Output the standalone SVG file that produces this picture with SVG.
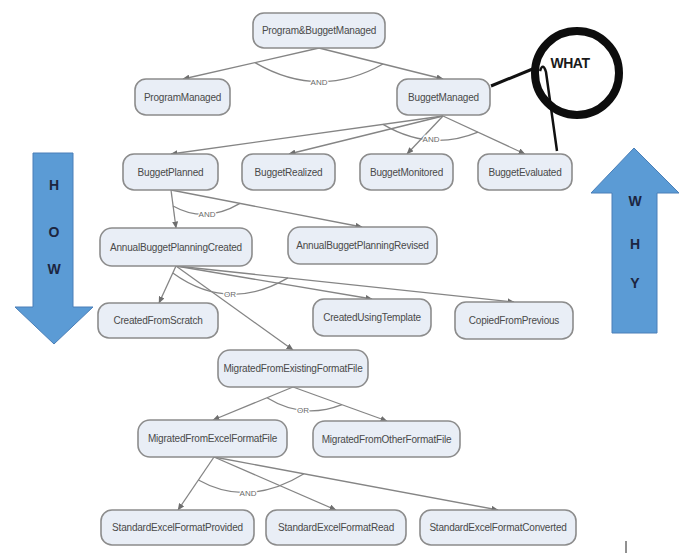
<svg xmlns="http://www.w3.org/2000/svg" width="685" height="555" viewBox="0 0 685 555">
<defs>
<marker id="ah" markerUnits="userSpaceOnUse" markerWidth="7" markerHeight="6" refX="6.5" refY="3" orient="auto">
<path d="M0,0 L7,3 L0,6 z" fill="#6e6e6e"/>
</marker>
<style>
.nd rect{fill:#e9eef6;stroke:#8c8c8c;stroke-width:1.6}
.nd text{font-family:"Liberation Sans",Arial,sans-serif;font-size:10px;fill:#4a4a4a;text-anchor:middle;letter-spacing:-0.2px}
.cn{stroke:#858585;stroke-width:1.3;fill:none}
.cn line{marker-end:url(#ah)}
.lb{font-family:"Liberation Sans",Arial,sans-serif;font-size:8px;fill:#6a6a6a;text-anchor:middle;stroke:#fff;stroke-width:2.5px;paint-order:stroke}
.big{fill:#5b9bd5;stroke:#4a7fb8;stroke-width:1}
.bl{font-family:"Liberation Sans",Arial,sans-serif;font-size:14px;font-weight:bold;fill:#1c2540;text-anchor:middle}
</style>
</defs>
<rect width="685" height="555" fill="#ffffff"/>

<g id="how-arrow">
<polygon class="big" points="33,153 73,153 73,307 93,307 54,344 15,307 33,307"/>
<text class="bl" x="54" y="190">H</text>
<text class="bl" x="54" y="237">O</text>
<text class="bl" x="54" y="274">W</text>
</g>
<g id="why-arrow">
<polygon class="big" points="634,148 679,193 657,193 657,333 612,333 612,193 591,193"/>
<text class="bl" x="635" y="206">W</text>
<text class="bl" x="635" y="249">H</text>
<text class="bl" x="635" y="288">Y</text>
</g>

<g id="connectors" class="cn">
<line x1="319" y1="48" x2="183" y2="79"/>
<line x1="319" y1="48" x2="443" y2="79"/>
<path d="M255,62.6 Q319,100 383,64"/>
<line x1="443" y1="116" x2="171" y2="154"/>
<line x1="443" y1="116" x2="289" y2="154"/>
<line x1="443" y1="116" x2="407" y2="154"/>
<line x1="443" y1="116" x2="525" y2="154"/>
<path d="M383,124.4 Q430,152 478,132.2"/>
<line x1="171" y1="190" x2="176" y2="228"/>
<line x1="171" y1="190" x2="362" y2="227"/>
<path d="M173,206 Q205,224 240,203.4"/>
<line x1="176" y1="266" x2="159" y2="303"/>
<line x1="176" y1="266" x2="293" y2="350"/>
<line x1="176" y1="266" x2="372" y2="299"/>
<line x1="176" y1="266" x2="514" y2="302"/>
<path d="M172.8,273 Q228,313 288,277.9"/>
<line x1="293" y1="387" x2="213" y2="420"/>
<line x1="293" y1="387" x2="387" y2="421"/>
<path d="M267,397.7 Q303,420 342,404.7"/>
<line x1="214" y1="457" x2="178" y2="510"/>
<line x1="214" y1="457" x2="336" y2="510"/>
<line x1="214" y1="457" x2="498" y2="510"/>
<path d="M198.4,480 Q248,508 304,473.8"/>
</g>
<g id="connector-labels">
<text class="lb" x="319" y="85">AND</text>
<text class="lb" x="431" y="142">AND</text>
<text class="lb" x="207" y="217">AND</text>
<text class="lb" x="230" y="297">OR</text>
<text class="lb" x="303" y="413">OR</text>
<text class="lb" x="248" y="496">AND</text>
</g>

<g id="n-program-budget-managed" class="nd"><rect x="253" y="13" width="132" height="35" rx="11"/><text x="319" y="34">Program&amp;BuggetManaged</text></g>
<g id="n-program-managed" class="nd"><rect x="135" y="79" width="95" height="36" rx="11"/><text x="182.5" y="100.5">ProgramManaged</text></g>
<g id="n-budget-managed" class="nd"><rect x="397" y="79" width="93" height="36" rx="11"/><text x="443.5" y="100.5">BuggetManaged</text></g>
<g id="n-budget-planned" class="nd"><rect x="123" y="154" width="95" height="36" rx="11"/><text x="170.5" y="175.5">BuggetPlanned</text></g>
<g id="n-budget-realized" class="nd"><rect x="242" y="154" width="93" height="36" rx="11"/><text x="288.5" y="175.5">BuggetRealized</text></g>
<g id="n-budget-monitored" class="nd"><rect x="360" y="154" width="93" height="36" rx="11"/><text x="406.5" y="175.5">BuggetMonitored</text></g>
<g id="n-budget-evaluated" class="nd"><rect x="478" y="154" width="94" height="36" rx="11"/><text x="525" y="175.5">BuggetEvaluated</text></g>
<g id="n-annual-created" class="nd"><rect x="100" y="228" width="152" height="38" rx="12"/><text x="176" y="250.5">AnnualBuggetPlanningCreated</text></g>
<g id="n-annual-revised" class="nd"><rect x="288" y="227" width="149" height="37" rx="12"/><text x="362.5" y="249">AnnualBuggetPlanningRevised</text></g>
<g id="n-created-scratch" class="nd"><rect x="98" y="303" width="120" height="35" rx="11"/><text x="158" y="324">CreatedFromScratch</text></g>
<g id="n-created-template" class="nd"><rect x="313" y="299" width="118" height="37" rx="11"/><text x="372" y="321">CreatedUsingTemplate</text></g>
<g id="n-copied-previous" class="nd"><rect x="455" y="302" width="118" height="37" rx="11"/><text x="514" y="324">CopiedFromPrevious</text></g>
<g id="n-migrated-existing" class="nd"><rect x="218" y="350" width="150" height="37" rx="12"/><text x="293" y="372">MigratedFromExistingFormatFile</text></g>
<g id="n-migrated-excel" class="nd"><rect x="138" y="420" width="149" height="37" rx="12"/><text x="212.5" y="442">MigratedFromExcelFormatFile</text></g>
<g id="n-migrated-other" class="nd"><rect x="313" y="421" width="147" height="36" rx="12"/><text x="386.5" y="442.5">MigratedFromOtherFormatFile</text></g>
<g id="n-std-provided" class="nd"><rect x="101" y="510" width="153" height="35" rx="11"/><text x="177.5" y="531">StandardExcelFormatProvided</text></g>
<g id="n-std-read" class="nd"><rect x="266" y="510" width="140" height="35" rx="11"/><text x="336" y="531">StandardExcelFormatRead</text></g>
<g id="n-std-converted" class="nd"><rect x="420" y="510" width="156" height="35" rx="11"/><text x="498" y="531">StandardExcelFormatConverted</text></g>

<g id="what-callout">
<line x1="491" y1="86" x2="535" y2="68" stroke="#111" stroke-width="3"/>
<path d="M540,71 Q543,62 546,72 L557,151" fill="none" stroke="#111" stroke-width="2.5"/>
<circle cx="577" cy="73" r="42" fill="none" stroke="#0d0d0d" stroke-width="8"/>
<text x="570" y="68" font-family="'Liberation Sans',Arial,sans-serif" font-size="14" font-weight="bold" fill="#1a1a1a" text-anchor="middle" letter-spacing="-0.5">WHAT</text>
</g>
<line id="tick" x1="626" y1="541" x2="626" y2="553" stroke="#222" stroke-width="1"/>
</svg>
